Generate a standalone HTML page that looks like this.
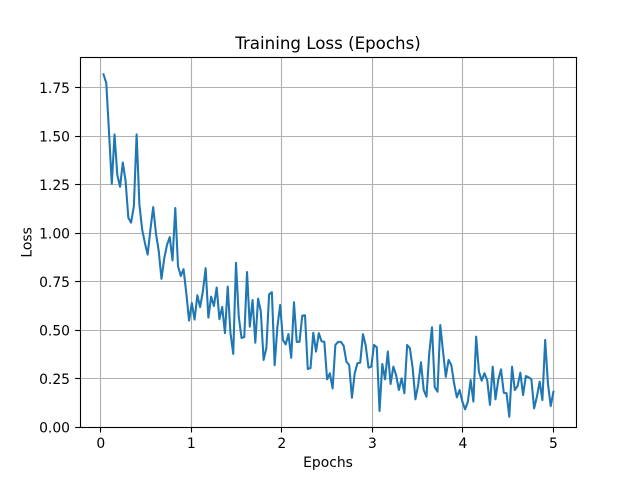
<!DOCTYPE html>
<html>
<head>
<meta charset="utf-8">
<title>Training Loss (Epochs)</title>
<style>
html,body{margin:0;padding:0;background:#fff;width:640px;height:480px;overflow:hidden}
svg{display:block}
text{font-family:"DejaVu Sans",sans-serif;fill:#000}
</style>
</head>
<body>
<svg id="chart" width="640" height="480" viewBox="0 0 640 480" xmlns="http://www.w3.org/2000/svg">
<rect x="0" y="0" width="640" height="480" fill="#fff"/>
<g id="grid"></g>
<g id="series"></g>
<g id="axes"></g>
<text x="328" y="49" text-anchor="middle" style="font-size:16.67px" id="title">Training Loss (Epochs)</text>
<text x="328" y="467" text-anchor="middle" style="font-size:13.89px">Epochs</text>
<text x="0" y="0" text-anchor="middle" transform="translate(31.5,242.4) rotate(-90)" style="font-size:13.89px">Loss</text>
</svg>
<script>
const lossValues = [
1.82,1.775,1.52,1.255,1.51,1.30,1.24,1.365,1.27,1.08,
1.055,1.14,1.51,1.15,1.02,0.95,0.89,1.02,1.135,1.0,
0.91,0.765,0.87,0.94,0.98,0.86,1.13,0.83,0.78,0.815,
0.69,0.55,0.64,0.555,0.68,0.62,0.70,0.82,0.565,0.673,
0.625,0.72,0.557,0.62,0.485,0.725,0.485,0.378,0.848,0.57,
0.46,0.465,0.80,0.518,0.656,0.436,0.663,0.596,0.347,0.408,
0.685,0.696,0.32,0.518,0.63,0.45,0.427,0.48,0.358,0.644,
0.44,0.44,0.575,0.577,0.30,0.305,0.487,0.39,0.485,0.443,
0.44,0.247,0.278,0.20,0.424,0.44,0.44,0.42,0.338,0.32,
0.152,0.278,0.33,0.333,0.48,0.42,0.307,0.312,0.424,0.412,
0.084,0.326,0.247,0.39,0.223,0.312,0.269,0.192,0.252,0.175,
0.424,0.407,0.304,0.144,0.218,0.335,0.192,0.157,0.381,0.515,
0.206,0.183,0.527,0.39,0.26,0.347,0.32,0.226,0.154,0.192,
0.132,0.092,0.132,0.243,0.132,0.467,0.286,0.24,0.278,0.243,
0.115,0.312,0.144,0.243,0.298,0.178,0.175,0.054,0.312,0.192,
0.212,0.281,0.166,0.264,0.257,0.247,0.097,0.157,0.235,0.14,
0.45,0.226,0.109,0.183
];
const xTickValues = [0,1,2,3,4,5];
const xTickLabels = ["0","1","2","3","4","5"];
const yTickValues = [0,0.25,0.5,0.75,1,1.25,1.5,1.75];
const yTickLabels = ["0.00","0.25","0.50","0.75","1.00","1.25","1.50","1.75"];
const lastEpoch = 5;

const NS = "http://www.w3.org/2000/svg";
const plot = {left:80,right:576,top:57.6,bottom:427.2};
const firstEpoch = lastEpoch / lossValues.length;
const xMin = -0.229, xMax = 5.249;
const yMin = 0, yMax = 1.906;
function xScale(v){return plot.left + (v - xMin) / (xMax - xMin) * (plot.right - plot.left);}
function yScale(v){return plot.bottom - (v - yMin) / (yMax - yMin) * (plot.bottom - plot.top);}
function snap(p){return Math.floor(p) + 0.5;}
function mk(tag, attrs, parent){
  const e = document.createElementNS(NS, tag);
  for (const k in attrs) e.setAttribute(k, attrs[k]);
  parent.appendChild(e);
  return e;
}
const gridG = document.getElementById("grid");
const axesG = document.getElementById("axes");
const seriesG = document.getElementById("series");

xTickValues.forEach(function(v, i){
  const x = snap(xScale(v));
  const g = mk("line", {x1:x,x2:x,y1:plot.top,y2:plot.bottom,stroke:"#b0b0b0","stroke-width":1.11}, gridG);
  
  
  const t = mk("line", {x1:x,x2:x,y1:plot.bottom,y2:plot.bottom+5.3,stroke:"#000","stroke-width":1.11}, axesG);
  
  
  const l = mk("text", {x:xScale(v),y:plot.bottom+20.8,"text-anchor":"middle",style:"font-size:13.89px"}, axesG);
  l.textContent = xTickLabels[i];
  
  
});
yTickValues.forEach(function(v, i){
  const y = snap(yScale(v));
  const g = mk("line", {x1:plot.left,x2:plot.right,y1:y,y2:y,stroke:"#b0b0b0","stroke-width":1.11}, gridG);
  
  
  const t = mk("line", {x1:plot.left-4.86,x2:plot.left,y1:y,y2:y,stroke:"#000","stroke-width":1.11}, axesG);
  
  
  const l = mk("text", {x:70,y:yScale(v)+5.2,"text-anchor":"end",style:"font-size:13.89px"}, axesG);
  l.textContent = yTickLabels[i];
  
  
});

const pts = lossValues.map(function(v, i){
  return xScale((i + 1) * firstEpoch).toFixed(2) + "," + yScale(v).toFixed(2);
}).join(" ");
const lossLine = mk("polyline", {points:pts,fill:"none",stroke:"#1f77b4","stroke-width":2.08,"stroke-linejoin":"round","stroke-linecap":"square"}, seriesG);



const frame = mk("rect", {x:snap(plot.left),y:snap(plot.top),width:plot.right-plot.left,height:Math.floor(plot.bottom)-Math.floor(plot.top),fill:"none",stroke:"#000","stroke-width":1.11}, axesG);


</script>
</body>
</html>
